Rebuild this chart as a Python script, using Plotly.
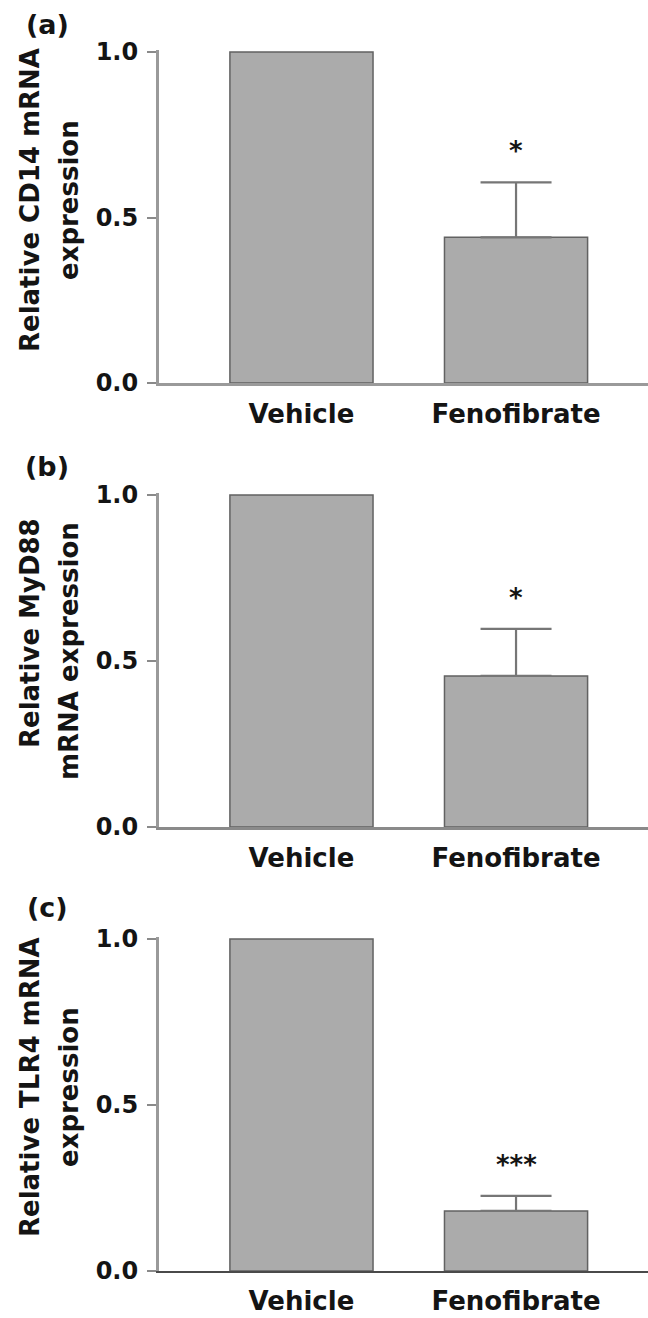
import plotly.graph_objects as go

# Data
categories = ["Vehicle", "Fenofibrate"]
cd14_mean = [1.0, 0.44]
cd14_sem = [0.0, 0.166]
myd88_mean = [1.0, 0.455]
myd88_sem = [0.0, 0.142]
tlr4_mean = [1.0, 0.181]
tlr4_sem = [0.0, 0.045]
significance = ["*", "*", "***"]
panel_letters = ["(a)", "(b)", "(c)"]
ytitle_lines = [
    ["Relative CD14 mRNA", "expression"],
    ["Relative MyD88", "mRNA expression"],
    ["Relative TLR4 mRNA", "expression"],
]
y_ticks = [0.0, 0.5, 1.0]
y_ticktext = ["0.0", "0.5", "1.0"]

W, H = 648, 1318
FONT = "DejaVu Sans"

# Panel geometry in pixels: (pixel of y=0, pixel of y=1)
panels_px = [(383, 52), (827, 495), (1271, 939)]
x_left_px = 159
y_top_val = 1.006
x_range = [-0.664, 1.615]

means = [cd14_mean, myd88_mean, tlr4_mean]
sems = [cd14_sem, myd88_sem, tlr4_sem]
xaxis_colors = ["#9a9a9a", "#8a8a8a", "#4a4a4a"]
xaxis_widths = [3, 2.5, 2]
title_centers = [(30, 69, 200, 200), (30, 69, 633, 651), (30, 69, 1087, 1087)]
letter_y = [25, 466, 907]

fig = go.Figure()
annotations = []
xpos = list(range(len(categories)))

for i in range(3):
    y0_px, y1_px = panels_px[i]
    unit = y0_px - y1_px
    top_px = y0_px - y_top_val * unit
    dom = [1 - y0_px / H, 1 - top_px / H]
    suffix = "" if i == 0 else str(i + 1)
    xa, ya = "x" + suffix, "y" + suffix

    fig.add_trace(go.Bar(
        x=xpos, y=means[i], width=0.667,
        marker=dict(color="#ababab", line=dict(color="#626262", width=1.5)),
        xaxis=xa, yaxis=ya, showlegend=False, hoverinfo="skip",
    ))
    # Error bar (upper only) on the Fenofibrate group
    fig.add_trace(go.Scatter(
        x=[xpos[1]], y=[means[i][1]], mode="markers",
        marker=dict(size=1, opacity=0),
        error_y=dict(type="data", symmetric=False, array=[sems[i][1]],
                     arrayminus=[0], color="#767676", thickness=2.2, width=35.5),
        xaxis=xa, yaxis=ya, showlegend=False, hoverinfo="skip",
    ))

    fig.layout["xaxis" + suffix] = dict(
        domain=[x_left_px / W, 1.0], range=x_range, anchor=ya, automargin=False,
        tickvals=xpos, ticktext=categories, ticks="", showgrid=False,
        zeroline=False, showline=True, linecolor=xaxis_colors[i],
        linewidth=xaxis_widths[i], ticklabelstandoff=6,
        tickfont=dict(family=FONT, size=26, color="#141414", weight="bold"),
    )
    fig.layout["yaxis" + suffix] = dict(
        domain=dom, range=[0, y_top_val], anchor=xa, automargin=False,
        tickvals=y_ticks, ticktext=y_ticktext, ticks="outside", ticklen=9,
        tickwidth=2, tickcolor="#8a8a8a", showgrid=False, zeroline=False,
        showline=True, linecolor="#9a9a9a", linewidth=3, ticklabelstandoff=4,
        tickfont=dict(family=FONT, size=24, color="#141414", weight="bold"),
    )

    # Significance marker above the error bar
    annotations.append(dict(
        x=xpos[1], y=means[i][1] + sems[i][1], xref=xa, yref=ya,
        text=significance[i], showarrow=False, yanchor="bottom", yshift=14,
        font=dict(family=FONT, size=26, color="#141414", weight="bold"),
    ))
    # Panel letter
    annotations.append(dict(
        x=47 / W, y=1 - letter_y[i] / H, xref="paper", yref="paper",
        text=panel_letters[i], showarrow=False, xanchor="center", yanchor="middle",
        font=dict(family=FONT, size=27, color="#141414", weight="bold"),
    ))
    # Y-axis title, one annotation per line
    lx1, lx2, ly1, ly2 = title_centers[i]
    for txt, lx, ly in [(ytitle_lines[i][0], lx1, ly1), (ytitle_lines[i][1], lx2, ly2)]:
        annotations.append(dict(
            x=lx / W, y=1 - ly / H, xref="paper", yref="paper", text=txt,
            textangle=-90, showarrow=False, xanchor="center", yanchor="middle",
            font=dict(family=FONT, size=26, color="#141414", weight="bold"),
        ))

fig.update_layout(
    width=W, height=H, margin=dict(l=0, r=0, t=0, b=0, autoexpand=False),
    plot_bgcolor="white", paper_bgcolor="white",
    annotations=annotations, barmode="overlay",
)

fig.write_html("out.html")
